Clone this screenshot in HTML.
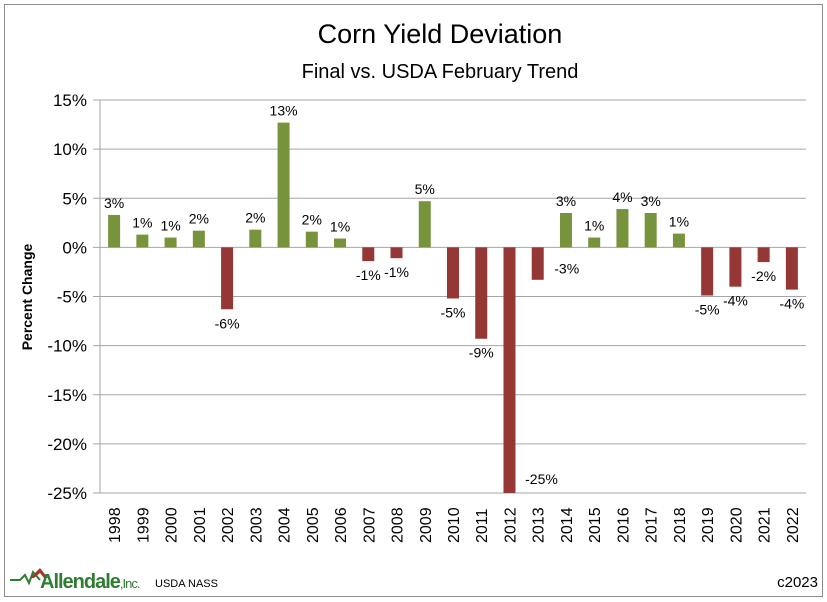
<!DOCTYPE html>
<html><head><meta charset="utf-8"><style>
body{margin:0;background:#fff;}
svg{display:block;font-family:"Liberation Sans",sans-serif;}
</style></head><body>
<svg id="chart" width="827" height="602">
<rect x="4.5" y="4.5" width="818" height="592" fill="#fff" stroke="#8c8c8c"/>
<text x="440" y="43" font-size="27" text-anchor="middle" fill="#000">Corn Yield Deviation</text>
<text x="440" y="78" font-size="20" text-anchor="middle" fill="#000">Final vs. USDA February Trend</text>
<text transform="translate(32,297) rotate(-90)" font-size="14" font-weight="bold" text-anchor="middle">Percent Change</text>
<g id="grid"></g><g id="bars"></g><g id="labels"></g>
<g>
<polyline points="10,580 20,580 25,575 29,583 33,572 40,580" fill="none" stroke="#2e7d32" stroke-width="2"/>
<polygon points="30,578 40,568 48,578 44,578 40,573 34,578" fill="#a33a2e"/>
<text x="40" y="588" font-size="20" font-weight="bold" fill="#2e7d32" letter-spacing="-1">Allendale<tspan font-size="13" font-weight="normal">,Inc.</tspan></text>
</g>
<text x="155" y="587" font-size="11">USDA NASS</text>
<text x="818" y="587" font-size="15" text-anchor="end">c2023</text>
</svg>
<script>
const years=["1998","1999","2000","2001","2002","2003","2004","2005","2006","2007","2008","2009","2010","2011","2012","2013","2014","2015","2016","2017","2018","2019","2020","2021","2022"];
const values=[3.3,1.3,1.0,1.7,-6.3,1.8,12.7,1.6,0.9,-1.4,-1.1,4.7,-5.2,-9.3,-25,-3.3,3.5,1.0,3.9,3.5,1.4,-4.9,-4.0,-1.5,-4.3];
const valueLabels=["3%","1%","1%","2%","-6%","2%","13%","2%","1%","-1%","-1%","5%","-5%","-9%","-25%","-3%","3%","1%","4%","3%","1%","-5%","-4%","-2%","-4%"];
const yTicks=[15,10,5,0,-5,-10,-15,-20,-25];
const NS="http://www.w3.org/2000/svg";
const L=100,R=806,T=100,B=493,yMax=15,yMin=-25;
const y=v=>T+(yMax-v)/(yMax-yMin)*(B-T);
const bw=(R-L)/years.length;
const x=i=>L+bw*(i+0.5);
function mk(tag,attrs,parent){const e=document.createElementNS(NS,tag);for(const k in attrs)e.setAttribute(k,attrs[k]);parent.appendChild(e);return e;}
const grid=document.getElementById('grid'),bars=document.getElementById('bars'),labels=document.getElementById('labels');
yTicks.forEach(t=>{
 const ln=mk('line',{x1:L,x2:R,y1:y(t),y2:y(t),stroke:'#a6a6a6','stroke-width':1},grid);
 
 
 mk('line',{x1:L-7,x2:L,y1:y(t),y2:y(t),stroke:'#a6a6a6'},grid);
 const tx=mk('text',{x:L-13,y:y(t)+6,'font-size':17,'text-anchor':'end'},grid);
 tx.textContent=t+'%';
 
 
});
mk('line',{x1:L,x2:L,y1:T,y2:B,stroke:'#a6a6a6'},grid);
years.forEach((yr,i)=>{
 const v=values[i],cx=x(i);
 const top=v>=0?y(v):y(0),h=Math.abs(y(v)-y(0));
 const r=mk('rect',{x:cx-6,y:top,width:12,height:h,fill:v>=0?'#77933c':'#953735'},bars);
 
 
 let ly=v>=0?y(v)-7:y(v)+19, lx=cx;
 if(v<-20){lx=cx+32;ly=B-9;}
 else if(yr==="2013"){lx=cx+29;ly=y(0)+26;}
 const t=mk('text',{x:lx,y:ly,'font-size':14,'text-anchor':'middle'},labels);
 t.textContent=valueLabels[i];
 
 
 const xl=mk('text',{transform:`translate(${cx+6},${B+50}) rotate(-90)`,'font-size':16},labels);
 xl.textContent=yr;
 
 
});
</script>
</body></html>
